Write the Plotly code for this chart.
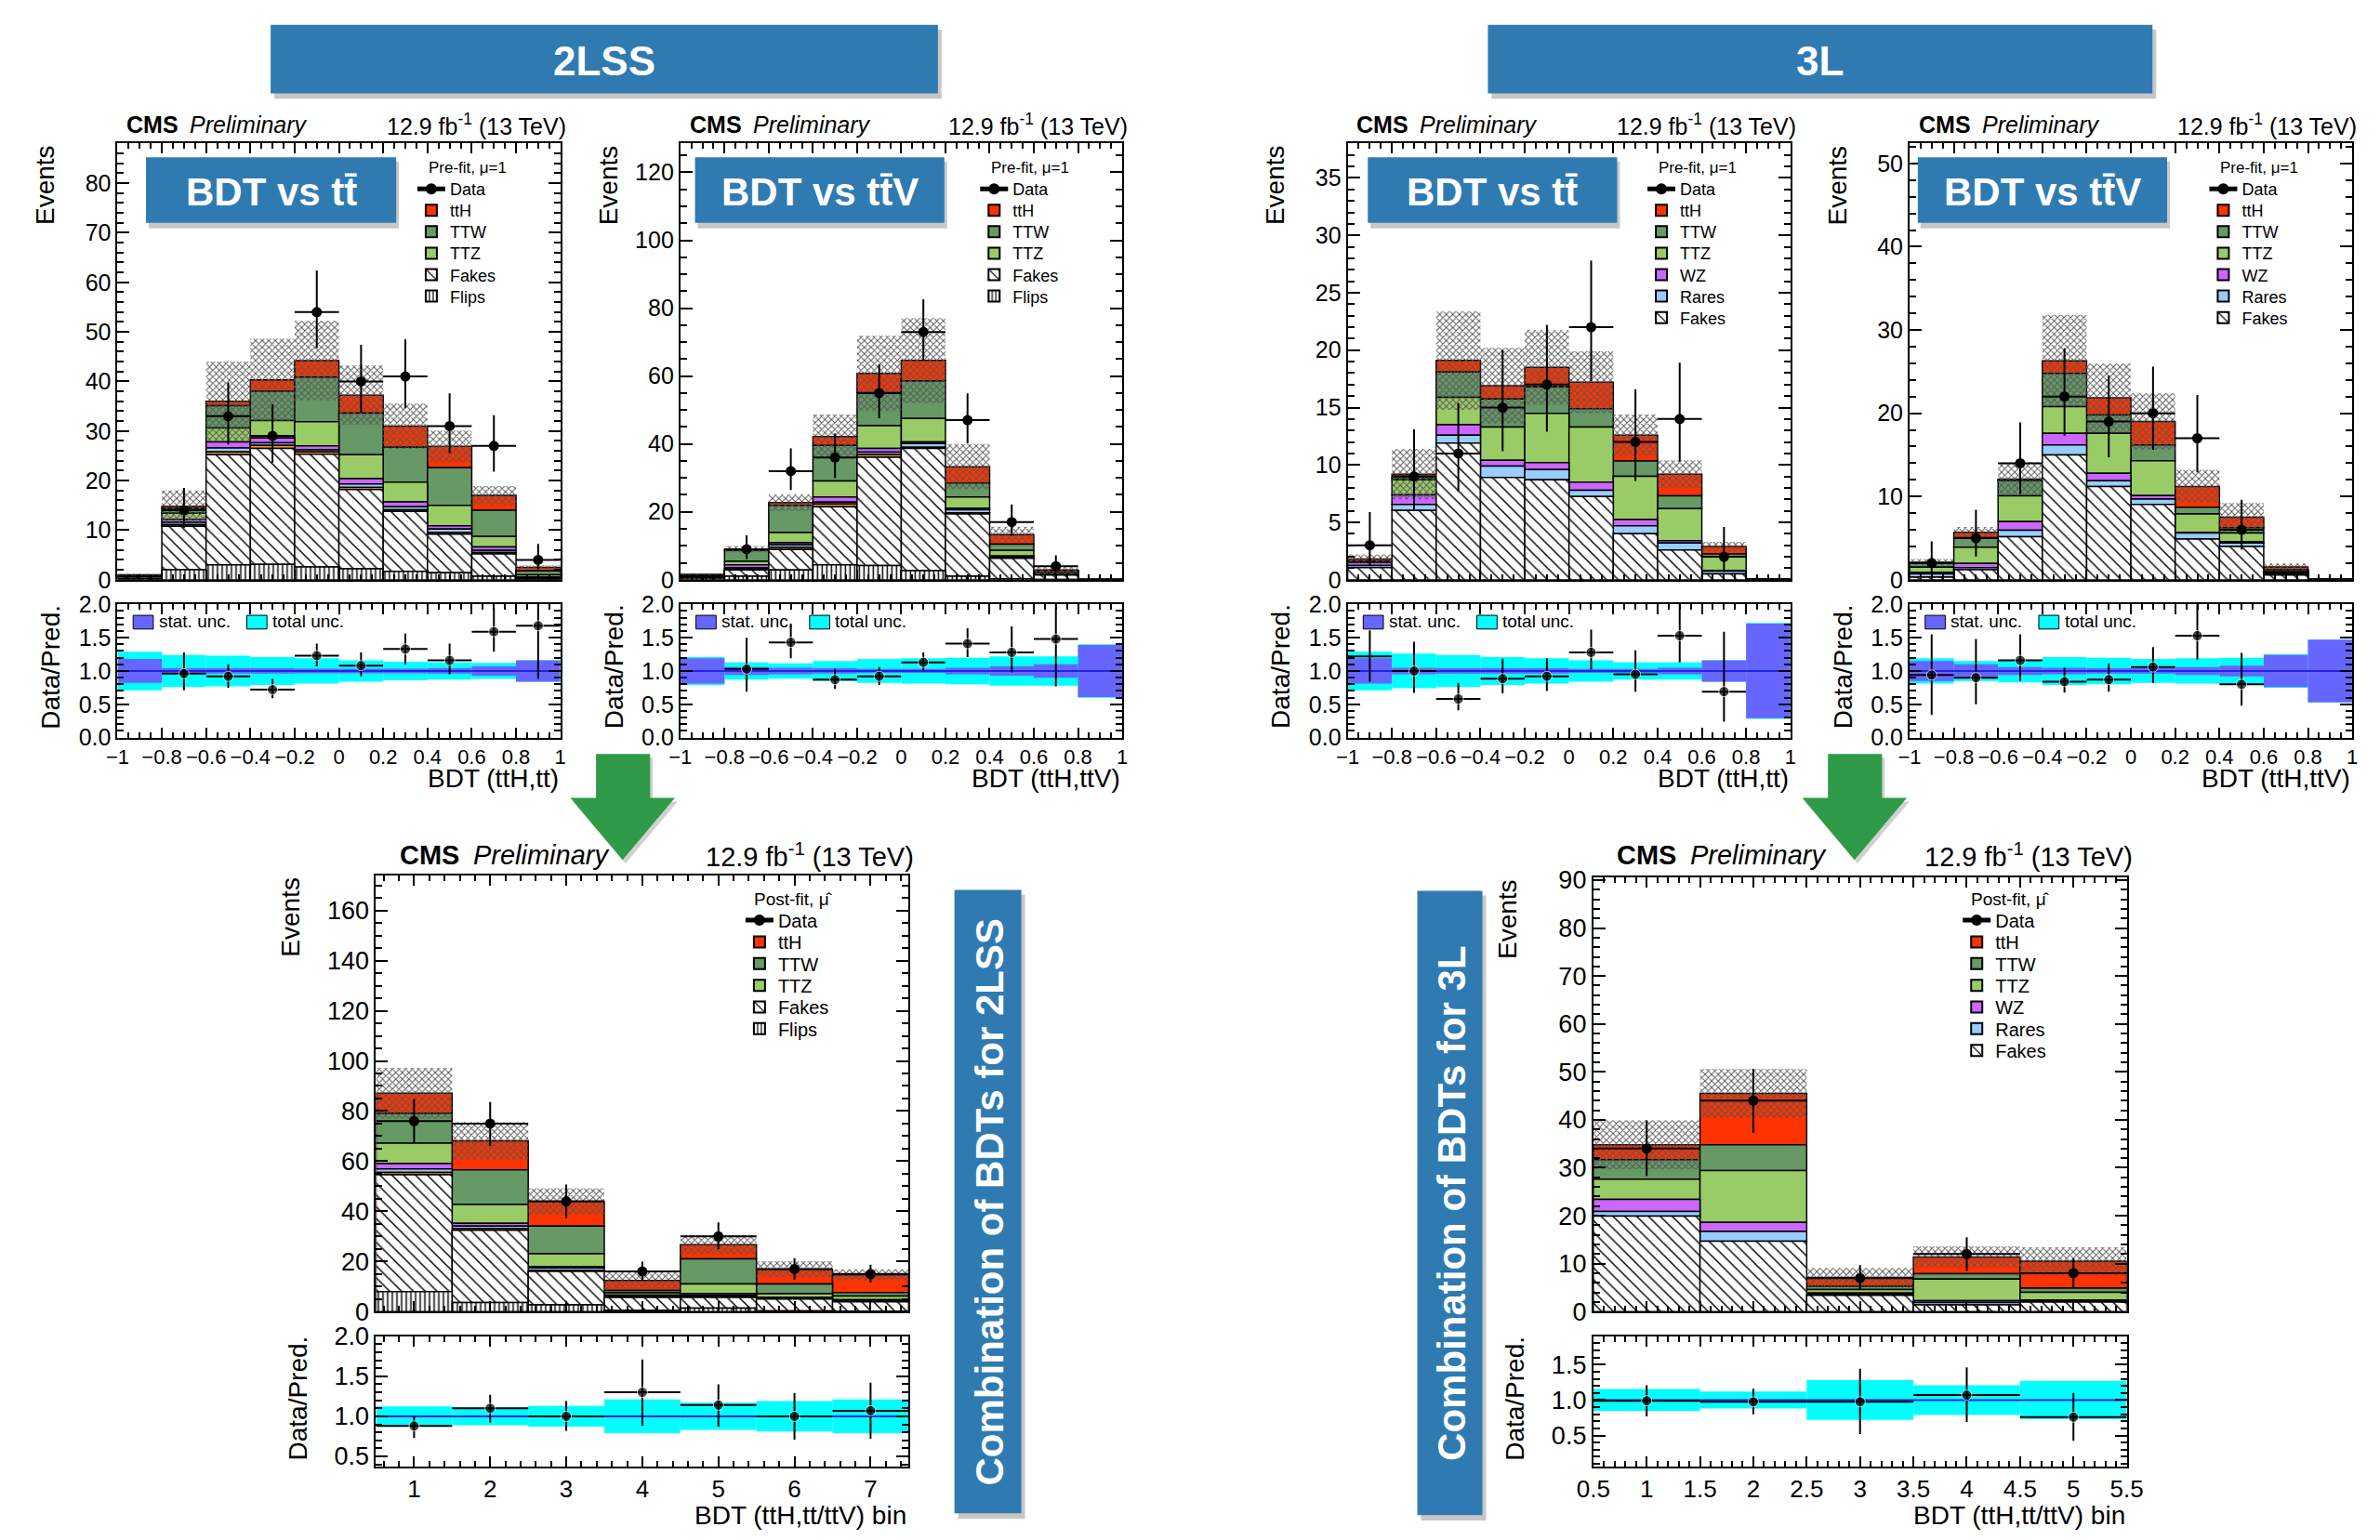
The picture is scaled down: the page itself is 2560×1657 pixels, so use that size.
import plotly.graph_objects as go

W, H = 2560, 1657
FONT = "Liberation Sans, Arial, Helvetica, sans-serif"

# ---------------------------------------------------------------- data
BDT_CENTERS = [-0.9, -0.7, -0.5, -0.3, -0.1, 0.1, 0.3, 0.5, 0.7, 0.9]
COMB7_CENTERS = [1, 2, 3, 4, 5, 6, 7]
COMB5_CENTERS = [1, 2, 3, 4, 5]

# 2LSS, BDT vs tt
A_flips = [0.2, 2.0, 3.0, 3.1, 2.6, 2.2, 1.7, 1.4, 0.7, 0.1]
A_fakes = [0.3, 8.8, 22.2, 23.4, 22.7, 16.0, 12.1, 7.8, 4.5, 0.2]
A_other = [0.0, 0.3, 0.6, 0.6, 0.5, 0.4, 0.3, 0.3, 0.3, 0.05]
A_rares = [0.0, 0.5, 0.8, 0.5, 0.4, 0.7, 0.6, 0.7, 0.4, 0.05]
A_wz = [0.05, 0.6, 1.2, 1.0, 0.8, 1.1, 1.0, 0.7, 0.7, 0.1]
A_ttz = [0.15, 1.2, 2.8, 3.5, 4.9, 4.8, 4.0, 4.1, 2.1, 0.5]
A_ttw = [0.2, 1.0, 4.5, 5.9, 9.0, 8.4, 7.0, 7.6, 5.3, 0.8]
A_tth = [0.1, 0.4, 0.9, 2.3, 3.3, 3.6, 4.3, 4.3, 3.0, 0.7]
A_unc = [0.2, 3.2, 8.0, 8.3, 8.0, 6.0, 4.6, 3.2, 1.9, 0.4]
A_data = [None, 14, 33, 29, 54, 40, 41, 31, 27, 4]
A_data_up = [None, 4.5, 6.8, 6.4, 8.4, 7.4, 7.5, 6.6, 6.2, 3.2]
A_data_dn = [None, 3.6, 5.7, 5.4, 7.3, 6.3, 6.4, 5.5, 5.2, 1.9]
A_ratio = [None, 0.96, 0.92, 0.72, 1.23, 1.08, 1.33, 1.16, 1.59, 1.68]
A_ratio_up = [None, 0.32, 0.18, 0.16, 0.18, 0.20, 0.23, 0.25, 0.36, 1.28]
A_ratio_dn = [None, 0.25, 0.17, 0.13, 0.16, 0.16, 0.23, 0.21, 0.30, 0.80]
A_tot = [0.29, 0.24, 0.23, 0.21, 0.19, 0.16, 0.14, 0.13, 0.12, 0.16]
A_stat = [0.18, 0.04, 0.04, 0.04, 0.035, 0.035, 0.035, 0.04, 0.07, 0.16]

# 2LSS, BDT vs ttV
B_flips = [0.5, 1.0, 2.9, 4.4, 4.2, 2.7, 1.0, 0.3, 0.1, 0.03]
B_fakes = [0.3, 1.9, 6.0, 17.1, 31.9, 36.0, 18.4, 6.0, 1.3, 0.03]
B_other = [0.0, 0.2, 0.6, 0.8, 0.7, 0.3, 0.3, 0.1, 0.0, 0.0]
B_rares = [0.0, 0.4, 0.8, 0.6, 0.8, 1.1, 0.9, 0.3, 0.1, 0.0]
B_wz = [0.0, 0.9, 0.6, 1.5, 1.1, 0.5, 0.5, 0.3, 0.1, 0.0]
B_ttz = [0.2, 1.0, 3.0, 4.7, 6.7, 6.9, 3.3, 1.6, 0.1, 0.01]
B_ttw = [0.4, 3.2, 8.0, 10.5, 9.7, 11.0, 4.1, 1.9, 0.6, 0.01]
B_tth = [0.2, 0.4, 0.8, 2.6, 5.7, 6.1, 4.8, 2.8, 0.6, 0.02]
B_unc = [0.3, 0.9, 2.4, 6.5, 11.1, 12.5, 6.7, 2.3, 1.3, 0.05]
B_data = [None, 9, 32, 36, 55, 73, 47, 17, 4, None]
B_data_up = [None, 4.1, 6.7, 7.1, 8.5, 9.6, 7.9, 5.2, 3.2, None]
B_data_dn = [None, 2.9, 5.6, 6.0, 7.4, 8.5, 6.8, 4.1, 1.9, None]
B_ratio = [None, 1.03, 1.43, 0.87, 0.92, 1.13, 1.41, 1.28, 1.48, None]
B_ratio_up = [None, 0.47, 0.28, 0.16, 0.14, 0.15, 0.23, 0.39, 1.10, None]
B_ratio_dn = [None, 0.34, 0.24, 0.14, 0.13, 0.12, 0.20, 0.30, 0.71, None]
B_tot = [0.21, 0.13, 0.115, 0.15, 0.18, 0.19, 0.20, 0.22, 0.22, 0.40]
B_stat = [0.19, 0.06, 0.05, 0.04, 0.03, 0.03, 0.05, 0.07, 0.10, 0.39]

# 3L, BDT vs tt
C_fakes = [1.05, 6.04, 11.9, 8.9, 8.7, 7.24, 4.0, 2.6, 0.5, 0.03]
C_rares = [0.19, 0.52, 0.7, 1.0, 0.9, 0.56, 0.7, 0.6, 0.25, 0.01]
C_wz = [0.26, 0.84, 0.9, 0.5, 0.6, 0.7, 0.55, 0.2, 0.05, 0.0]
C_ttz = [0.05, 1.3, 2.4, 2.9, 4.3, 4.8, 3.75, 2.8, 1.2, 0.01]
C_ttw = [0.05, 0.2, 2.2, 2.45, 2.3, 1.6, 1.35, 1.1, 0.25, 0.01]
C_tth = [0.2, 0.3, 1.0, 1.15, 1.7, 2.3, 2.25, 1.9, 0.65, 0.01]
C_unc = [0.4, 2.2, 4.3, 3.3, 3.25, 2.7, 1.8, 1.2, 0.4, 0.01]
C_data = [3, 9, 11, 15, 17, 22, 12, 14, 2, None]
C_data_up = [2.9, 4.1, 4.4, 5.0, 5.2, 5.8, 4.6, 4.9, 2.6, None]
C_data_dn = [1.8, 2.9, 3.3, 3.8, 4.1, 4.7, 3.4, 3.7, 1.3, None]
C_ratio = [1.22, 1.0, 0.58, 0.885, 0.92, 1.28, 0.95, 1.53, 0.69, None]
C_ratio_up = [0.39, 0.44, 0.24, 0.30, 0.27, 0.34, 0.36, 0.50, 0.90, None]
C_ratio_dn = [0.38, 0.33, 0.17, 0.22, 0.22, 0.26, 0.26, 0.40, 0.45, None]
C_tot = [0.29, 0.26, 0.24, 0.21, 0.19, 0.16, 0.13, 0.13, 0.16, 0.72]
C_stat = [0.19, 0.05, 0.04, 0.04, 0.04, 0.03, 0.03, 0.05, 0.16, 0.71]

# 3L, BDT vs ttV
D_fakes = [0.3, 1.2, 5.17, 15.0, 11.2, 9.04, 4.9, 4.0, 0.55, 0.03]
D_rares = [0.4, 0.25, 0.77, 1.2, 0.7, 0.66, 0.7, 0.4, 0.15, 0.01]
D_wz = [0.2, 0.51, 1.03, 1.4, 0.9, 0.4, 0.1, 0.15, 0.05, 0.0]
D_ttz = [0.6, 1.94, 3.1, 3.2, 4.8, 4.2, 2.2, 1.05, 0.2, 0.01]
D_ttw = [0.5, 1.16, 1.83, 4.0, 2.2, 1.9, 0.8, 0.65, 0.25, 0.01]
D_tth = [0.1, 0.64, 0.2, 1.5, 2.05, 2.8, 2.5, 1.25, 0.35, 0.01]
D_unc = [0.4, 0.65, 2.0, 5.5, 4.15, 3.4, 2.0, 1.7, 0.41, 0.01]
D_data = [2, 5, 14, 22, 19, 20, 17, 6, None, None]
D_data_up = [2.6, 3.4, 4.9, 5.8, 5.5, 5.6, 5.2, 3.6, None, None]
D_data_dn = [1.3, 2.2, 3.7, 4.7, 4.3, 4.4, 4.1, 2.4, None, None]
D_ratio = [0.94, 0.90, 1.16, 0.84, 0.87, 1.06, 1.53, 0.80, None, None]
D_ratio_up = [0.61, 0.58, 0.39, 0.21, 0.24, 0.30, 0.47, 0.47, None, None]
D_ratio_dn = [0.60, 0.40, 0.31, 0.165, 0.18, 0.24, 0.36, 0.32, None, None]
D_tot = [0.19, 0.15, 0.17, 0.21, 0.20, 0.18, 0.19, 0.20, 0.25, 0.47]
D_stat = [0.15, 0.10, 0.06, 0.05, 0.04, 0.04, 0.06, 0.08, 0.24, 0.47]

# 2LSS combination (post-fit)
E_flips = [8.0, 3.6, 2.7, 0.5, 1.4, 0.3, 0.2]
E_fakes = [46.6, 28.8, 13.3, 5.2, 4.3, 4.7, 3.7]
E_other = [0.9, 0.7, 0.5, 0.2, 0.2, 0.1, 0.1]
E_rares = [1.4, 1.0, 0.9, 0.4, 0.6, 0.4, 0.4]
E_wz = [2.1, 1.1, 0.6, 0.3, 0.6, 0.2, 0.3]
E_ttz = [8.2, 7.5, 5.1, 0.9, 3.9, 1.4, 1.5]
E_ttw = [11.9, 13.8, 11.0, 0.9, 10.0, 3.9, 1.4]
E_tth = [8.0, 11.6, 9.8, 4.0, 5.7, 5.9, 7.0]
E_unc = [10.1, 7.5, 5.3, 3.6, 3.9, 3.2, 2.3]
E_data = [76, 75, 44, 16, 30, 17, 15]
E_data_up = [8.8, 8.6, 6.7, 3.9, 5.6, 4.3, 3.7]
E_data_dn = [8.8, 8.9, 6.7, 3.6, 5.1, 4.2, 3.4]
E_ratio = [0.88, 1.10, 1.0, 1.30, 1.14, 1.0, 1.07]
E_ratio_up = [0.12, 0.17, 0.19, 0.41, 0.26, 0.29, 0.35]
E_ratio_dn = [0.15, 0.18, 0.18, 0.42, 0.27, 0.29, 0.35]
E_tot = [0.125, 0.11, 0.13, 0.21, 0.17, 0.19, 0.21]

# 3L combination (post-fit)
F_fakes = [19.9, 14.7, 3.4, 1.4, 2.0]
F_rares = [1.0, 2.0, 0.3, 0.5, 0.3]
F_wz = [2.5, 1.9, 0.2, 0.4, 0.1]
F_ttz = [4.2, 10.8, 0.7, 4.5, 1.6]
F_ttw = [4.1, 5.4, 0.7, 1.1, 0.9]
F_tth = [3.1, 10.7, 1.8, 3.5, 5.6]
F_unc = [5.1, 5.1, 2.0, 2.2, 2.9]
F_data = [34, 44, 7, 12, 8]
F_data_up = [5.9, 6.6, 2.7, 3.5, 3.1]
F_data_dn = [5.7, 6.7, 2.4, 3.5, 3.1]
F_ratio = [0.99, 0.975, 0.975, 1.07, 0.76]
F_ratio_up = [0.22, 0.185, 0.465, 0.39, 0.34]
F_ratio_dn = [0.22, 0.175, 0.455, 0.38, 0.335]
F_tot = [0.155, 0.12, 0.28, 0.21, 0.27]

# ---------------------------------------------------------------- styles
C_TTH = "#ff3300"
C_TTW = "#669966"
C_TTZ = "#99cc66"
C_WZ = "#cc66ff"
C_RARES = "#99ccff"
C_OTHER = "#ff9933"
C_BOX = "#2f7bb1"
C_ARROW = "#2f9a47"
C_TOTUNC = "#00ffff"
C_STATUNC = "#6666ff"

FAKES_PAT = dict(shape="\\", fgcolor="black", bgcolor="white", size=9, solidity=0.16, fillmode="replace")
FLIPS_PAT = dict(shape="|", fgcolor="black", bgcolor="white", size=5, solidity=0.3, fillmode="replace")
UNC_PAT = dict(shape="x", fgcolor="#555555", bgcolor="rgba(0,0,0,0)", size=5, solidity=0.35, fillmode="replace")


def X(p):
    return p / W


def Y(p):
    return 1 - p / H


def stack_2lss(fl, fk, ot, ra, wz, tz, tw, th):
    return [("Flips", fl, "white", FLIPS_PAT, True), ("Fakes", fk, "white", FAKES_PAT, True),
            ("Other", ot, C_OTHER, None, False), ("Rares", ra, C_RARES, None, False),
            ("WZ", wz, C_WZ, None, False), ("TTZ", tz, C_TTZ, None, True),
            ("TTW", tw, C_TTW, None, True), ("ttH", th, C_TTH, None, True)]


def stack_3l(fk, ra, wz, tz, tw, th):
    return [("Fakes", fk, "white", FAKES_PAT, True), ("Rares", ra, C_RARES, None, True),
            ("WZ", wz, C_WZ, None, True), ("TTZ", tz, C_TTZ, None, True),
            ("TTW", tw, C_TTW, None, True), ("ttH", th, C_TTH, None, True)]


PANELS = [
    dict(centers=BDT_CENTERS, bw=0.2, stack=stack_2lss(A_flips, A_fakes, A_other, A_rares, A_wz, A_ttz, A_ttw, A_tth),
         unc=A_unc, data=A_data, dup=A_data_up, ddn=A_data_dn, ratio=A_ratio, rup=A_ratio_up, rdn=A_ratio_dn,
         tot=A_tot, stat=A_stat, g=dict(L=110, R=593, T=142, MB=620, RT=647, RB=793),
         xr=[-1, 1], yr=[0, 88], ydt=10, ymn=2, xdt=0.2, xmn=0.05, rr=[0, 2],
         header="Pre-fit, \u03bc=1", xtitle="BDT (ttH,tt)", label="BDT vs tt\u0304", box=(141, 414, 157, 229),
         lumi_r=601, big=False),
    dict(centers=BDT_CENTERS, bw=0.2, stack=stack_2lss(B_flips, B_fakes, B_other, B_rares, B_wz, B_ttz, B_ttw, B_tth),
         unc=B_unc, data=B_data, dup=B_data_up, ddn=B_data_dn, ratio=B_ratio, rup=B_ratio_up, rdn=B_ratio_dn,
         tot=B_tot, stat=B_stat, g=dict(L=724, R=1206, T=142, MB=620, RT=647, RB=793),
         xr=[-1, 1], yr=[0, 128.5], ydt=20, ymn=5, xdt=0.2, xmn=0.05, rr=[0, 2],
         header="Pre-fit, \u03bc=1", xtitle="BDT (ttH,ttV)", label="BDT vs tt\u0304V", box=(740, 1012, 157, 229),
         lumi_r=1214, big=False),
    dict(centers=BDT_CENTERS, bw=0.2, stack=stack_3l(C_fakes, C_rares, C_wz, C_ttz, C_ttw, C_tth),
         unc=C_unc, data=C_data, dup=C_data_up, ddn=C_data_dn, ratio=C_ratio, rup=C_ratio_up, rdn=C_ratio_dn,
         tot=C_tot, stat=C_stat, g=dict(L=1452, R=1935, T=142, MB=620, RT=647, RB=793),
         xr=[-1, 1], yr=[0, 38], ydt=5, ymn=1, xdt=0.2, xmn=0.05, rr=[0, 2], hide=[0],
         header="Pre-fit, \u03bc=1", xtitle="BDT (ttH,tt)", label="BDT vs tt\u0304", box=(1474, 1746, 157, 229),
         lumi_r=1943, big=False),
    dict(centers=BDT_CENTERS, bw=0.2, stack=stack_3l(D_fakes, D_rares, D_wz, D_ttz, D_ttw, D_tth),
         unc=D_unc, data=D_data, dup=D_data_up, ddn=D_data_dn, ratio=D_ratio, rup=D_ratio_up, rdn=D_ratio_dn,
         tot=D_tot, stat=D_stat, g=dict(L=2065, R=2548, T=142, MB=620, RT=647, RB=793),
         xr=[-1, 1], yr=[0, 52.4], ydt=10, ymn=2, xdt=0.2, xmn=0.05, rr=[0, 2],
         header="Pre-fit, \u03bc=1", xtitle="BDT (ttH,ttV)", label="BDT vs tt\u0304V", box=(2074, 2346, 157, 229),
         lumi_r=2555, big=False),
    dict(centers=COMB7_CENTERS, bw=1.0, stack=stack_2lss(E_flips, E_fakes, E_other, E_rares, E_wz, E_ttz, E_ttw, E_tth),
         unc=E_unc, data=E_data, dup=E_data_up, ddn=E_data_dn, ratio=E_ratio, rup=E_ratio_up, rdn=E_ratio_dn,
         tot=E_tot, stat=None, g=dict(L=392, R=973, T=944, MB=1422, RT=1449, RB=1592),
         xr=[0.5, 7.5], yr=[0, 174], ydt=20, ymn=5, xdt=1, xmn=0.2, rr=[0.37, 2.0],
         header="Post-fit, \u03bc\u0302", xtitle="BDT (ttH,tt/ttV) bin", label=None, box=None,
         lumi_r=981, big=True),
    dict(centers=COMB5_CENTERS, bw=1.0, stack=stack_3l(F_fakes, F_rares, F_wz, F_ttz, F_ttw, F_tth),
         unc=F_unc, data=F_data, dup=F_data_up, ddn=F_data_dn, ratio=F_ratio, rup=F_ratio_up, rdn=F_ratio_dn,
         tot=F_tot, stat=None, g=dict(L=1720, R=2302, T=946, MB=1422, RT=1449, RB=1592),
         xr=[0.5, 5.5], yr=[0, 90.6], ydt=10, ymn=2, xdt=0.5, xmn=0.1, rr=[0.06, 1.9],
         header="Post-fit, \u03bc\u0302", xtitle="BDT (ttH,tt/ttV) bin", label=None, box=None,
         lumi_r=2310, big=True),
]

fig = go.Figure()
layout_axes = {}
legends = {}
shapes = []
annotations = []
leg_count = [0]


def new_legend(text_left, y_center, size):
    leg_count[0] += 1
    name = "legend" if leg_count[0] == 1 else f"legend{leg_count[0]}"
    legends[name] = dict(x=X(text_left - 40), y=Y(y_center), xanchor="left", yanchor="middle",
                         bgcolor="rgba(0,0,0,0)", borderwidth=0, tracegroupgap=0, itemsizing="constant",
                         itemwidth=30, font=dict(family=FONT, size=size, color="black"))
    return name


def ann(text, x, y, xa="center", ya="middle", size=20, color="black", angle=0, bold=False):
    if bold:
        text = "<b>" + text + "</b>"
    annotations.append(dict(text=text, x=X(x), y=Y(y), xref="paper", yref="paper", xanchor=xa, yanchor=ya,
                            showarrow=False, textangle=angle, font=dict(family=FONT, size=size, color=color)))


def rect(x0, x1, y0, y1, color, line_color=None, line_width=0):
    shapes.append(dict(type="rect", xref="paper", yref="paper", x0=X(x0), x1=X(x1), y0=Y(y1), y1=Y(y0),
                       fillcolor=color, line=dict(color=line_color or color, width=line_width), layer="above"))


def clean(a):
    return [0 if v is None else v for v in a]


def axis_base(fs):
    return dict(showline=True, linecolor="black", linewidth=2, mirror="ticks", ticks="inside",
                tickcolor="black", tickwidth=1.5, showgrid=False, zeroline=False, tickangle=0,
                tickfont=dict(family=FONT, size=fs, color="black"))


for i, p in enumerate(PANELS):
    nm, nr = 2 * i + 1, 2 * i + 2
    xm = "x" if nm == 1 else f"x{nm}"
    ym = "y" if nm == 1 else f"y{nm}"
    xr_, yr_ = f"x{nr}", f"y{nr}"
    g = p["g"]
    big = p["big"]
    fs_xtick = 26 if big else 22
    fs_ytick = 27 if big else 25
    fs_title = 28 if big else 28
    fs_cms = 29 if big else 25
    fs_leg = 20 if big else 18
    cen, bw = p["centers"], p["bw"]

    # legend geometry
    text_left = g["L"] + (438 if big else 362)
    row0 = 993 if big else 192
    drow = 23.8 if big else 23.5
    ann(p["header"], g["L"] + (410 if big else 337), row0 - 23, xa="left", size=fs_leg - 1)

    # --- stacked histogram
    bases, cum = [], [0.0] * len(cen)
    for name, vals, color, pat, show in p["stack"]:
        bases.append(list(cum))
        cum = [c + v for c, v in zip(cum, vals)]
    total = cum

    row = 0
    lg = new_legend(text_left, row0, fs_leg)
    fig.add_trace(go.Scatter(x=[None], y=[None], mode="lines+markers", name="Data",
                             line=dict(color="black", width=2), marker=dict(color="black", size=10),
                             legend=lg, xaxis=xm, yaxis=ym, showlegend=True, hoverinfo="skip"))
    for (name, vals, color, pat, show), base in reversed(list(zip(p["stack"], bases))):
        marker = dict(color=color, line=dict(color="black", width=1.5))
        if pat:
            marker["pattern"] = pat
        kw = {}
        if show:
            row += 1
            kw["legend"] = new_legend(text_left, row0 + row * drow, fs_leg)
        fig.add_trace(go.Bar(x=cen, y=vals, base=base, width=bw, marker=marker, name=name,
                             showlegend=show, xaxis=xm, yaxis=ym, hoverinfo="skip", **kw))
    unc = p["unc"]
    fig.add_trace(go.Bar(x=cen, y=[2 * u for u in unc], base=[t - u for t, u in zip(total, unc)], width=bw,
                         marker=dict(color="rgba(0,0,0,0)", line=dict(width=0), pattern=UNC_PAT),
                         showlegend=False, xaxis=xm, yaxis=ym, hoverinfo="skip"))
    fig.add_trace(go.Scatter(x=cen, y=p["data"], mode="markers", marker=dict(color="black", size=11),
                             error_y=dict(type="data", symmetric=False, array=clean(p["dup"]),
                                          arrayminus=clean(p["ddn"]), color="black", thickness=2, width=0),
                             error_x=dict(type="constant", value=bw / 2, color="black", thickness=2, width=0),
                             showlegend=False, xaxis=xm, yaxis=ym, hoverinfo="skip"))

    # --- ratio
    tot = p["tot"]
    fig.add_trace(go.Bar(x=cen, y=[2 * u for u in tot], base=[1 - u for u in tot], width=bw,
                         marker=dict(color=C_TOTUNC, line=dict(width=0)), showlegend=False,
                         xaxis=xr_, yaxis=yr_, hoverinfo="skip"))
    if p["stat"]:
        st = p["stat"]
        fig.add_trace(go.Bar(x=cen, y=[2 * u for u in st], base=[1 - u for u in st], width=bw,
                             marker=dict(color=C_STATUNC, line=dict(width=0)), showlegend=False,
                             xaxis=xr_, yaxis=yr_, hoverinfo="skip"))
    fig.add_trace(go.Scatter(x=p["xr"], y=[1, 1], mode="lines", line=dict(color="#2222ee", width=2),
                             showlegend=False, xaxis=xr_, yaxis=yr_, hoverinfo="skip"))
    hide = p.get("hide", [])
    msize = [0 if k in hide else 11 for k in range(len(cen))]
    fig.add_trace(go.Scatter(x=cen, y=p["ratio"], mode="markers", marker=dict(color="black", size=msize),
                             error_y=dict(type="data", symmetric=False, array=clean(p["rup"]),
                                          arrayminus=clean(p["rdn"]), color="black", thickness=2, width=0),
                             error_x=dict(type="constant", value=bw / 2, color="black", thickness=2, width=0),
                             showlegend=False, xaxis=xr_, yaxis=yr_, hoverinfo="skip"))

    # --- axes
    xdom = [X(g["L"]), X(g["R"])]
    axx = axis_base(fs_xtick)
    axy = axis_base(fs_ytick)
    layout_axes["xaxis" if nm == 1 else f"xaxis{nm}"] = dict(
        axx, domain=xdom, range=p["xr"], anchor=ym, dtick=p["xdt"], ticklen=11, showticklabels=False,
        minor=dict(ticks="inside", ticklen=6, dtick=p["xmn"], tickcolor="black", tickwidth=1.5, showgrid=False))
    layout_axes["yaxis" if nm == 1 else f"yaxis{nm}"] = dict(
        axy, domain=[Y(g["MB"]), Y(g["T"])], range=p["yr"], anchor=xm, dtick=p["ydt"], ticklen=13,
        minor=dict(ticks="inside", ticklen=7, dtick=p["ymn"], tickcolor="black", tickwidth=1.5, showgrid=False))
    layout_axes[f"xaxis{nr}"] = dict(
        axx, domain=xdom, range=p["xr"], anchor=yr_, dtick=p["xdt"], ticklen=11,
        minor=dict(ticks="inside", ticklen=6, dtick=p["xmn"], tickcolor="black", tickwidth=1.5, showgrid=False))
    layout_axes[f"yaxis{nr}"] = dict(
        axy, domain=[Y(g["RB"]), Y(g["RT"])], range=p["rr"], anchor=xr_, dtick=0.5, tick0=0, ticklen=13,
        tickformat=".1f",
        minor=dict(ticks="inside", ticklen=7, dtick=0.1, tickcolor="black", tickwidth=1.5, showgrid=False))

    # --- texts
    title_y = 121 if not big else 922
    cms_dx = 8 if not big else 24
    ann("<b>CMS</b>\u2002<i>Preliminary</i>", g["L"] + cms_dx, title_y, xa="left", size=fs_cms)
    ann("12.9 fb<sup>-1</sup> (13 TeV)", p["lumi_r"], title_y, xa="right", size=fs_cms)
    ev_dx = 79 if not big else 93
    ann("Events", g["L"] - ev_dx, g["T"], xa="center", ya="top", size=fs_title, angle=-90)
    dp_dx = 73 if not big else 85
    ann("Data/Pred.", g["L"] - dp_dx, g["RT"] - 2, xa="center", ya="top", size=fs_title, angle=-90)
    ann(p["xtitle"], g["R"], 838 if not big else 1645, xa="right", size=fs_title)

    # --- ratio legend (pre-fit panels)
    if p["stat"]:
        rect(g["L"] + 17, g["L"] + 39, 659, 674, C_STATUNC, "black", 1)
        ann("stat. unc.", g["L"] + 43, 666, xa="left", size=19)
        rect(g["L"] + 141, g["L"] + 163, 659, 674, C_TOTUNC, "black", 1)
        ann("total unc.", g["L"] + 167, 666, xa="left", size=19)

    # --- blue label box
    if p["box"]:
        x0, x1, y0, y1 = p["box"]
        rect(x0 + 3, x1 + 3, y0 + 5, y1 + 6, "rgba(0,0,0,0.22)")
        rect(x0, x1, y0, y1, C_BOX)
        ann(p["label"], (x0 + x1) / 2, (y0 + y1) / 2 + 2, size=42, color="white", bold=True)

# ---------------------------------------------------------------- decorations
for (x0, x1, txt) in [(277, 1005, "2LSS"), (1605, 2330, "3L")]:
    rect(x0 + 4, x1 + 4, 12 + 5, 87 + 6, "rgba(0,0,0,0.22)")
    rect(x0, x1, 12, 87, C_BOX)
    ann(txt, (x0 + x1) / 2, 51, size=44, color="white", bold=True)

for (x0, x1, y0, y1, txt) in [(1023, 1096, 960, 1643, "Combination of BDTs for 2LSS"),
                              (1528, 1599, 961, 1645, "Combination of BDTs for 3L")]:
    rect(x0 + 4, x1 + 4, y0 + 5, y1 + 6, "rgba(0,0,0,0.22)")
    rect(x0, x1, y0, y1, C_BOX)
    ann(txt, (x0 + x1) / 2 + 2, (y0 + y1) / 2, size=42, color="white", bold=True, angle=-90)

for cx in [661, 2005]:
    pts = [(cx - 29, 811), (cx + 30, 811), (cx + 30, 859), (cx + 57, 859), (cx, 927), (cx - 57, 859), (cx - 29, 859)]
    path = "M " + " L ".join(f"{X(a):.6f},{Y(b):.6f}" for a, b in pts) + " Z"
    shp = [(a + 3, b + 4) for a, b in pts]
    spath = "M " + " L ".join(f"{X(a):.6f},{Y(b):.6f}" for a, b in shp) + " Z"
    shapes.append(dict(type="path", path=spath, xref="paper", yref="paper", fillcolor="rgba(0,0,0,0.18)",
                       line=dict(width=0), layer="above"))
    shapes.append(dict(type="path", path=path, xref="paper", yref="paper", fillcolor=C_ARROW,
                       line=dict(width=0), layer="above"))

fig.update_layout(width=W, height=H, margin=dict(l=0, r=0, t=0, b=0), paper_bgcolor="white",
                  plot_bgcolor="white", barmode="overlay", showlegend=True, shapes=shapes,
                  annotations=annotations, **layout_axes, **legends)

fig.write_html("out.html")
